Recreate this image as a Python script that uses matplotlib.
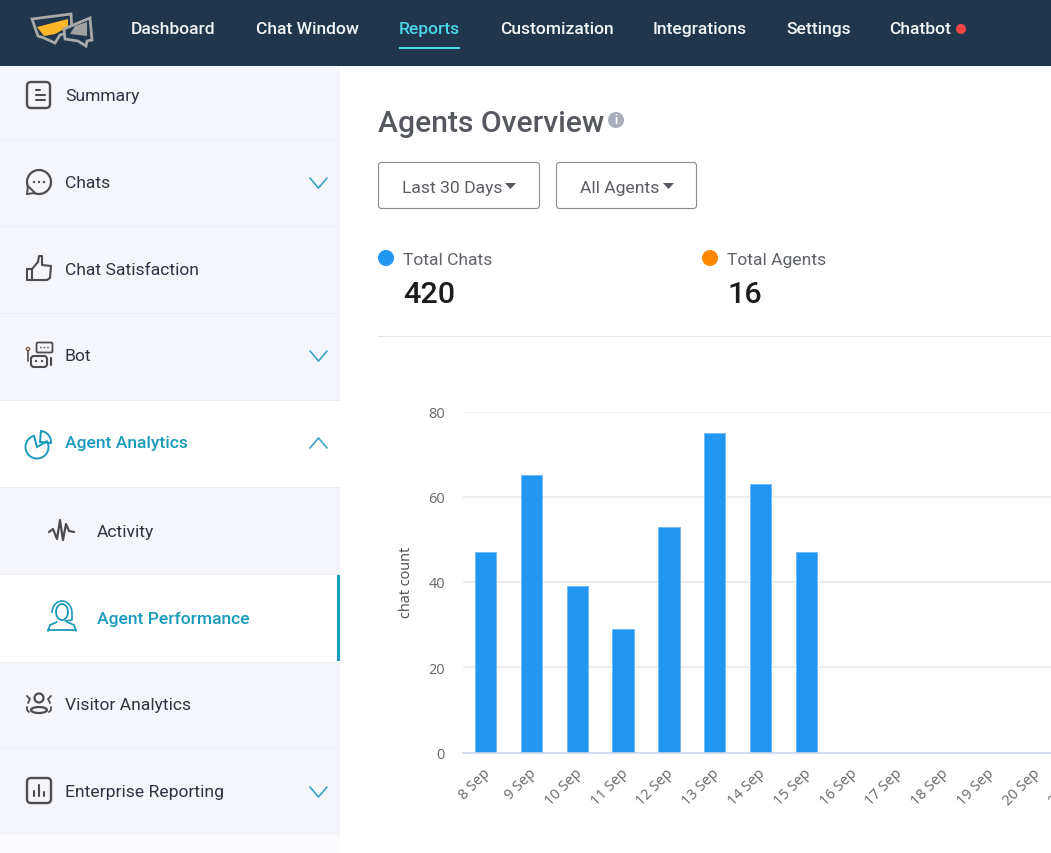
"""Agents Overview screenshot: dashboard chrome plus the chat count bar chart."""

import matplotlib
matplotlib.use("Agg")
import matplotlib.pyplot as plt
from matplotlib.patches import Arc, Circle, Ellipse, FancyBboxPatch, Polygon, Rectangle, Wedge
from matplotlib.transforms import ScaledTranslation

plt.rcParams['font.family'] = ['Roboto', 'DejaVu Sans']

WIDTH, HEIGHT = 1051, 854

# chart data
days = ['8 Sep', '9 Sep', '10 Sep', '11 Sep', '12 Sep', '13 Sep', '14 Sep',
        '15 Sep', '16 Sep', '17 Sep', '18 Sep', '19 Sep', '20 Sep', '21 Sep']
chat_counts = [47, 65, 39, 29, 53, 75, 63, 47, 0, 0, 0, 0, 0, 0]
y_ticks = [0, 20, 40, 60, 80]

# page text
nav_labels = ['Dashboard', 'Chat Window', 'Reports', 'Customization',
              'Integrations', 'Settings', 'Chatbot']
nav_x = [131, 256, 399, 500, 653, 786, 889]
side_labels = ['Summary', 'Chats', 'Chat Satisfaction', 'Bot', 'Agent Analytics',
               'Activity', 'Agent Performance', 'Visitor Analytics', 'Enterprise Reporting']
side_x = [65, 65, 65, 65, 65, 97, 97, 65, 65]
side_y = [95, 182, 269, 355, 442, 531, 618, 704, 791]
side_rules = [141, 227, 314, 401, 488, 575, 663, 749]
chevrons_down = [183, 356, 792]

NAVY = '#1f364d'
SIDE_BG = '#f5f6fc'
TEAL = '#1a9bbb'
ICON = '#4d4d4f'
BLUE = '#2196f3'
px = 0.72  # pixels to points at dpi 100

fig = plt.figure(figsize=(WIDTH / 100, HEIGHT / 100), dpi=100, facecolor='white')
bg = fig.add_axes([0, 0, 1, 1])
bg.set_xlim(0, WIDTH)
bg.set_ylim(HEIGHT, 0)
bg.axis('off')


def label(x, y, s, size, color, weight='normal', ha='left'):
    bg.text(x, y, s, fontsize=size * px, color=color, fontweight=weight, ha=ha, va='center_baseline')


def rect(x0, y0, x1, y1, color):
    bg.add_patch(Rectangle((x0, y0), x1 - x0, y1 - y0, fc=color, ec='none'))


def line(xs, ys, color=ICON, lw=1.5):
    bg.plot(xs, ys, color=color, lw=lw, solid_capstyle='round', solid_joinstyle='round')


def chevron(y, up=False):
    d = -5 if up else 5
    line([310, 318.5, 327], [y - d + 1, y + d + 1, y - d + 1], color='#3ba2c4', lw=1.2)


def button(x0, x1, text, caret_x):
    bg.add_patch(FancyBboxPatch((x0 + 3.5, 166.5), x1 - x0 - 7, 40, boxstyle='round,pad=3',
                                fc='white', ec='#8c8c8c', lw=0.8))
    label(x0 + 24, 187, text, 17.5, '#5a5d63')
    bg.add_patch(Polygon([(caret_x, 184), (caret_x + 11, 184), (caret_x + 5.5, 190)], fc='#55585f', ec='none'))


# page backgrounds
rect(0, 67, 340, 836, SIDE_BG)
rect(0, 836, 340, HEIGHT, '#fbfbfe')
rect(0, 402, 340, 488, 'white')
rect(0, 576, 340, 663, 'white')
rect(337, 576, 340, 662, TEAL)
for y in side_rules:
    rect(0, y, 340, y + 1, '#eceef4')

# top navigation
rect(0, 0, WIDTH, 67, NAVY)
bg.add_patch(Polygon([(32, 20), (71, 15), (72, 33), (60, 36), (55, 44), (44, 39), (38, 37)],
                     fc=NAVY, ec='#a9a9a9', lw=2))
bg.add_patch(Polygon([(37, 28), (68, 20), (68, 28), (55, 35), (44, 37)], fc='#fdb627', ec='none'))
bg.add_patch(Polygon([(64, 30), (90, 19), (92, 41), (87, 42), (86, 47), (78, 42), (65, 40)],
                     fc=NAVY, ec='#a9a9a9', lw=2))
bg.add_patch(Polygon([(75, 27), (87, 23), (87, 37), (70, 35)], fc='#a0a0a0', ec='none'))
for x, s in zip(nav_x, nav_labels):
    label(x, 28, s, 17.5, '#4dd6e8' if s == 'Reports' else '#f2f4f6', weight='medium')
rect(399, 48, 460, 50, '#4dd6e8')
bg.add_patch(Circle((961, 30), 5, fc='#f44545', ec='none'))

# sidebar
for x, y, s in zip(side_x, side_y, side_labels):
    active = s in ('Agent Analytics', 'Agent Performance')
    label(x, y, s, 17.5, TEAL if active else '#2e3242', weight='medium' if active else 'normal')
for y in chevrons_down:
    chevron(y)
chevron(443, up=True)

# sidebar icons
bg.add_patch(FancyBboxPatch((31, 87), 15, 18, boxstyle='round,pad=4', fc='none', ec=ICON, lw=1.7))
line([36, 40], [91, 91]); line([36, 45], [96, 96]); line([36, 45], [101, 101])
bg.add_patch(Circle((39, 183), 12, fc='none', ec=ICON, lw=1.6))
bg.add_patch(Polygon([(28, 187), (27, 195), (35, 194)], fc=SIDE_BG, ec=ICON, lw=1.4))
for x in (34, 39, 44):
    bg.add_patch(Circle((x, 183), 1.2, fc=ICON, ec='none'))
# thumb
line([27, 32, 32, 27, 27], [270, 270, 281, 281, 270])
line([32, 38, 39, 42, 42, 51, 50, 47, 32], [270, 263, 257, 257, 266, 267, 279, 281, 281])
# bot
bg.add_patch(FancyBboxPatch((34, 360), 10, 5, boxstyle='round,pad=3', fc='none', ec=ICON, lw=1.5))
bg.add_patch(FancyBboxPatch((38, 345), 13, 7, boxstyle='round,pad=1.5', fc=SIDE_BG, ec=ICON, lw=1.3))
for x in (41, 44.5, 48):
    bg.add_patch(Circle((x, 348.5), 0.8, fc=ICON, ec='none'))
bg.add_patch(Circle((36, 362), 1.2, fc=ICON, ec='none'))
bg.add_patch(Circle((42, 362), 1.2, fc=ICON, ec='none'))
bg.add_patch(Circle((28, 350), 1.6, fc='none', ec='#8a5a44', lw=1))
line([28, 28], [352, 362], lw=1.2)
line([51, 51], [359, 366], lw=1.6)
# pie
bg.add_patch(Wedge((37, 448), 11.5, -30, 255, fc='none', ec=TEAL, lw=1.4))
bg.add_patch(Wedge((40, 443), 11, -85, 5, fc='none', ec=TEAL, lw=1.4))
# pulse
line([49, 53, 57, 60, 63, 66, 69, 74], [533, 530, 540, 521, 541, 525, 532, 533], color=ICON, lw=1.6)
# headset
bg.add_patch(Ellipse((62, 613), 12, 16, fc='none', ec=TEAL, lw=1.3))
bg.add_patch(Arc((62, 614), 20, 24, theta1=180, theta2=360, ec=TEAL, lw=1.2))
line([72, 72, 65], [614, 621, 622], color=TEAL, lw=1.2)
line([48, 50, 57], [632, 626, 623], color=TEAL, lw=1.3)
line([76, 74, 67], [632, 626, 623], color=TEAL, lw=1.3)
line([48, 76], [631, 631], color=TEAL, lw=1.3)
# people
bg.add_patch(Circle((39, 699), 4.5, fc='none', ec=ICON, lw=1.6))
bg.add_patch(Ellipse((39, 711), 16, 6, fc='none', ec=ICON, lw=1.6))
for x, d in ((30, -1), (48, 1)):
    line([x + d * 3, x, x + d * 2], [697, 700, 704], lw=1.3)
    line([x + d * 3, x + d * 3, x + d], [708, 711, 713], lw=1.3)
# report
bg.add_patch(FancyBboxPatch((31, 783), 16, 17, boxstyle='round,pad=4', fc='none', ec=ICON, lw=1.7))
line([34, 34], [792, 797]); line([39, 39], [786, 797]); line([44, 44], [793, 797])

# heading and filters
label(378, 121, 'Agents Overview', 30, '#55585f', weight='medium')
bg.add_patch(Circle((616, 121), 8, fc='#a9afba', ec='none'))
bg.text(616, 121, 'i', fontsize=12 * px, color='white', fontweight='bold', ha='center', va='center')
button(378, 540, 'Last 30 Days', 505)
button(556, 697, 'All Agents', 663)

# summary numbers
bg.add_patch(Circle((386, 259), 8, fc=BLUE, ec='none'))
bg.add_patch(Circle((710, 259), 8, fc='#ff8800', ec='none'))
label(403, 259, 'Total Chats', 17.5, '#5f6268')
label(727, 259, 'Total Agents', 17.5, '#5f6268')
label(403, 292, '420', 30.5, '#1c1c1e', weight='medium')
label(727, 292, '16', 30.5, '#1c1c1e', weight='medium')
rect(378, 337, WIDTH, 338, '#e6e6e6')

# chart, axes run past the right edge of the page like the cropped original
band = 45.8
first_tick = 485.7
ax_left, ax_right, ax_bottom, ax_top = 463, 1110, 753.5, 412.5
ax = fig.add_axes([ax_left / WIDTH, 1 - ax_bottom / HEIGHT,
                   (ax_right - ax_left) / WIDTH, (ax_bottom - ax_top) / HEIGHT])
ax.patch.set_alpha(0)
ax.bar(range(len(days)), chat_counts, width=21.5 / band, color=BLUE, edgecolor='#6cb9f6', linewidth=0.6, zorder=3)
ax.set_xlim((ax_left - first_tick) / band, (ax_right - first_tick) / band)
ax.set_ylim(0, 80)
ax.set_yticks(y_ticks)
ax.grid(axis='y', color='#e8e8e8', lw=1.1, zorder=0)
for side in ('top', 'right', 'left'):
    ax.spines[side].set_visible(False)
ax.spines['bottom'].set_color('#ccd6eb')
ax.spines['bottom'].set_linewidth(1.2)
ax.spines['bottom'].set_zorder(4)
ax.tick_params(axis='y', length=0, pad=13, labelsize=14.5 * px, labelcolor='#666666')
ax.set_xticks(range(len(days)))
ax.set_xticklabels(days, rotation=45, ha='right', rotation_mode='anchor', family=['Open Sans', 'DejaVu Sans'],
                   fontsize=14.5 * px, color='#666666')
ax.tick_params(axis='x', length=0, pad=10)
nudge = ScaledTranslation(-3 / 100, 1 / 100, fig.dpi_scale_trans)
for t in ax.get_xticklabels():
    t.set_transform(t.get_transform() + nudge)
for t in ax.get_yticklabels():
    t.set_family(['Open Sans', 'DejaVu Sans'])
fig.text(406 / WIDTH, 1 - 582 / HEIGHT, 'chat count', rotation=90, ha='center', va='center',
         family=['Open Sans', 'DejaVu Sans'], fontsize=14.5 * px, color='#4a4a4a')

fig.savefig('out.png', dpi=100)
